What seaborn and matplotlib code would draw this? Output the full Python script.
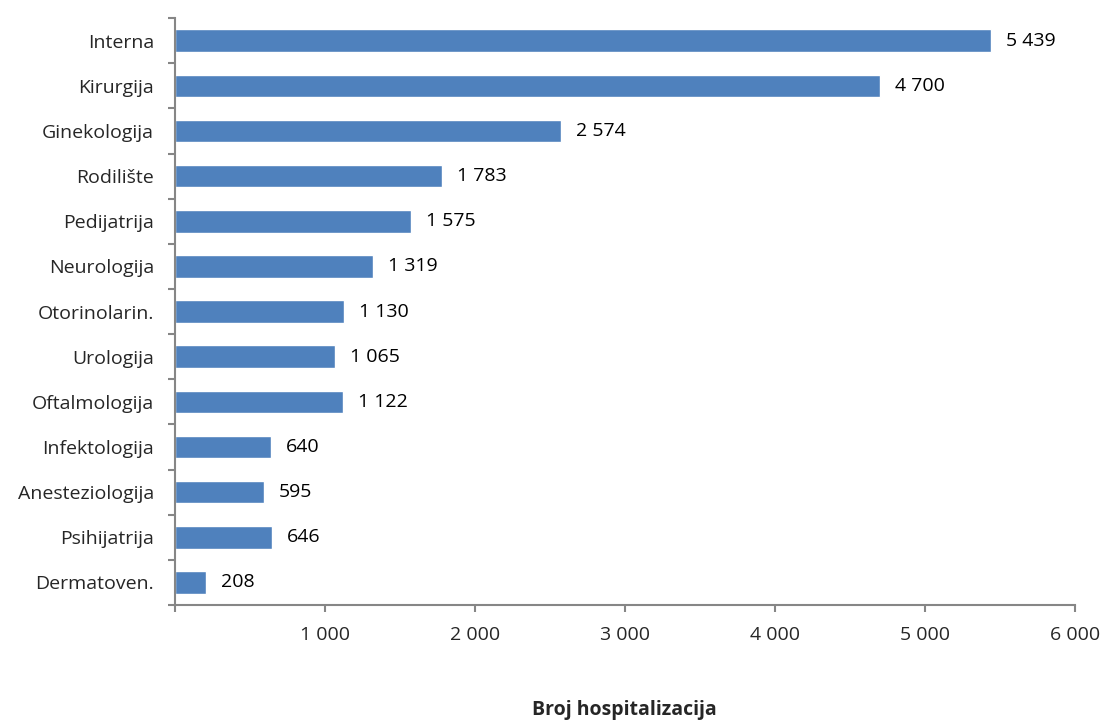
import pandas as pd
import numpy as np
import matplotlib.pyplot as plt
import seaborn as sns
from matplotlib.ticker import FuncFormatter, FixedLocator

# data
odjeli = ['Interna', 'Kirurgija', 'Ginekologija', 'Rodilište', 'Pedijatrija',
          'Neurologija', 'Otorinolarin.', 'Urologija', 'Oftalmologija',
          'Infektologija', 'Anesteziologija', 'Psihijatrija', 'Dermatoven.']
hospitalizacije = [5439, 4700, 2574, 1783, 1575, 1319, 1130, 1065, 1122,
                   640, 595, 646, 208]

df = pd.DataFrame({'Odjel': odjeli, 'Broj': hospitalizacije})

def fmt(v):
    return f'{int(v):,}'.replace(',', ' ')

sns.set_style('white')
plt.rcParams['font.family'] = ['Open Sans', 'DejaVu Sans']
fs = 14

fig = plt.figure(figsize=(11.04, 7.24), dpi=100)
ax = fig.add_axes([0.1585, 0.1644, 0.815, 0.8106])

sns.barplot(data=df, x='Broj', y='Odjel', orient='h', color='#4F81BD',
            saturation=1, width=0.5, ax=ax)

for i, v in enumerate(hospitalizacije):
    ax.text(v + 100, i, fmt(v), va='center', ha='left', fontsize=fs, color='black')

ax.set_xlim(0, 6000)
ax.set_ylim(len(odjeli) - 0.5, -0.5)
ax.set_xticks(np.arange(0, 6001, 1000))
ax.xaxis.set_major_formatter(FuncFormatter(lambda v, p: '' if v == 0 else fmt(v)))
ax.yaxis.set_minor_locator(FixedLocator(np.arange(-0.5, len(odjeli), 1)))

ax.tick_params(axis='y', which='major', length=0, pad=15, labelsize=fs)
ax.tick_params(axis='y', which='minor', length=5, width=1.5, color='#868686', left=True)
ax.tick_params(axis='x', which='major', length=5, width=1.5, color='#868686',
               bottom=True, pad=10, labelsize=fs)

sns.despine(ax=ax)
for s in ['left', 'bottom']:
    ax.spines[s].set_color('#868686')
    ax.spines[s].set_linewidth(1.5)

ax.set_xlabel('')
ax.set_ylabel('')
fig.text(0.566, 0.006, 'Broj hospitalizacija', ha='center', va='bottom',
         fontsize=fs, fontweight='bold')

plt.savefig('out.png', dpi=100)
plt.close()
